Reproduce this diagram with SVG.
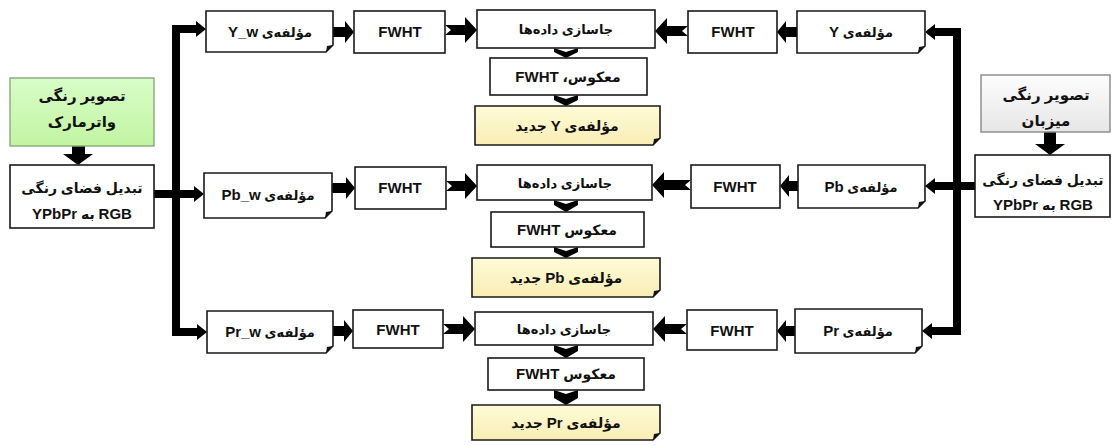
<svg xmlns="http://www.w3.org/2000/svg" width="1113" height="446" viewBox="0 0 1113 446">
<defs>
<linearGradient id="gGreen" x1="0" y1="0" x2="0" y2="1"><stop offset="0" stop-color="#d8fdc8"/><stop offset="1" stop-color="#c2f4a2"/></linearGradient>
<linearGradient id="gGray" x1="0" y1="0" x2="0" y2="1"><stop offset="0" stop-color="#fdfdfd"/><stop offset="1" stop-color="#e6e6e6"/></linearGradient>
<linearGradient id="gYel" x1="0" y1="0" x2="0" y2="1"><stop offset="0" stop-color="#fffbd8"/><stop offset="1" stop-color="#f8edb4"/></linearGradient>
<style>
.box{fill:#fff;stroke:#1a1a1a;stroke-width:1.6}
.grn{fill:url(#gGreen);stroke:#8aa878;stroke-width:1.4}
.gry{fill:url(#gGray);stroke:#888;stroke-width:1.4}
.yel{fill:url(#gYel);stroke:#1a1a1a;stroke-width:1.6}
.fold{fill:#111}
.t{font-family:"Liberation Sans","DejaVu Sans",sans-serif;font-weight:bold;font-size:13px;fill:#111;text-anchor:middle}
.tl{font-size:14px}
.tb{font-size:15px}
.L{font-size:15px}
.blk{fill:#000}
.bus{fill:none;stroke:#000;stroke-width:8;stroke-linejoin:miter}
</style>
</defs>

<g id="connectors">
<path class="bus" d="M196,29 H176 V332 H197"/>
<path class="bus" d="M154,194 H194"/>
<polygon class="blk" points="196,21 206,29 196,37"/>
<polygon class="blk" points="194,186 204,194 194,202"/>
<polygon class="blk" points="197,324 207,332 197,340"/>
<path class="bus" d="M935,32 H957 V331 H932"/>
<path class="bus" d="M975,186 H935"/>
<polygon class="blk" points="935,24 925,32 935,40"/>
<polygon class="blk" points="935,178 925,186 935,194"/>
<polygon class="blk" points="932,323 922,331 932,339"/>
<polygon class="blk" points="72,146 85,146 85,154 93,154 78,165 63,154 72,154"/>
<polygon class="blk" points="1044,132 1056,132 1056,144 1065,144 1050,155 1035,144 1044,144"/>
<polygon class="blk" points="333,27 345,27 345,21 354,32 345,43 345,37 333,37"/>
<polygon class="blk" points="332,183 346,183 346,177 355,188 346,199 346,193 332,193"/>
<polygon class="blk" points="333,326 344,326 344,320 353,331 344,342 344,336 333,336"/>
<polygon class="blk" points="445,25 465,25 465,17 477,30 465,43 465,35 445,35 451,30"/>
<polygon class="blk" points="446,181 465,181 465,173 477,186 465,199 465,191 446,191 452,186"/>
<polygon class="blk" points="443,324 463,324 463,316 475,329 463,342 463,334 443,334 449,329"/>
<polygon class="blk" points="688,26 667,26 667,18 655,31 667,44 667,36 688,36 682,31"/>
<polygon class="blk" points="691,180 664,180 664,172 652,185 664,198 664,190 691,190 685,185"/>
<polygon class="blk" points="687,324 665,324 665,316 653,329 665,342 665,334 687,334 681,329"/>
<polygon class="blk" points="797,27 786,27 786,21 777,32 786,43 786,37 797,37"/>
<polygon class="blk" points="798,181 789,181 789,175 780,186 789,197 789,191 798,191"/>
<polygon class="blk" points="795,326 786,326 786,320 777,331 786,342 786,336 795,336"/>
<polygon class="blk" points="554,48 566,52 578,48 578,52 566,58 554,52"/>
<polygon class="blk" points="554,95 566,99 578,95 578,100 566,106 554,100"/>
<polygon class="blk" points="554,200 566,204 578,200 578,205 566,212 554,205"/>
<polygon class="blk" points="554,247 566,251 578,247 578,252 566,258 554,252"/>
<polygon class="blk" points="554,345 566,349 578,345 578,351 566,358 554,351"/>
<polygon class="blk" points="554,390 566,394 578,390 578,398 566,405 554,398"/>
</g>

<g id="watermark">
<rect class="grn" x="10" y="78" width="144" height="68"/>
<text class="t tb" x="82" y="101" direction="rtl">تصویر رنگی</text>
<text class="t tb" x="82" y="127" direction="rtl">واترمارک</text>
</g>
<g id="convLeft">
<rect class="box" x="10" y="165" width="144" height="63"/>
<text class="t tl" x="82" y="193" direction="rtl">تبدیل فضای رنگی</text>
<text class="t tl" x="82" y="219" direction="rtl"><tspan class="L">RGB</tspan> به <tspan class="L">YPbPr</tspan></text>
</g>
<g id="host">
<rect class="gry" x="981" y="75" width="129" height="57"/>
<text class="t tb" x="1046" y="100" direction="rtl">تصویر رنگی</text>
<text class="t tb" x="1046" y="126" direction="rtl">میزبان</text>
</g>
<g id="convRight">
<rect class="box" x="975" y="155" width="135" height="62"/>
<text class="t tl" x="1043" y="185" direction="rtl">تبدیل فضای رنگی</text>
<text class="t tl" x="1043" y="210" direction="rtl"><tspan class="L">RGB</tspan> به <tspan class="L">YPbPr</tspan></text>
</g>

<g id="Yw">
<path class="box" d="M206,11 H333 V45 L326,52 H206 Z"/><path class="fold" d="M326,52 L327,46 L333,45 Z"/>
<text class="t" x="270" y="37" direction="rtl">مؤلفه‌ی <tspan class="L">Y_w</tspan></text>
</g>
<g id="fwhtL1"><rect class="box" x="354" y="11" width="91" height="42"/><text class="t L" x="400" y="37">FWHT</text></g>
<g id="emb1"><rect class="box" x="477" y="10" width="178" height="38"/><text class="t" x="566" y="34" direction="rtl">جاسازی داده‌ها</text></g>
<g id="fwhtR1"><rect class="box" x="688" y="11" width="89" height="42"/><text class="t L" x="733" y="37">FWHT</text></g>
<g id="Y">
<path class="box" d="M797,11 H925 V46 L918,53 H797 Z"/><path class="fold" d="M918,53 L919,47 L925,46 Z"/>
<text class="t" x="861" y="37" direction="rtl">مؤلفه‌ی <tspan class="L">Y</tspan></text>
</g>
<g id="inv1"><rect class="box" x="490" y="58" width="157" height="37"/><text class="t tl" x="568" y="82" direction="rtl">معکوس، <tspan class="L">FWHT</tspan></text></g>
<g id="newY">
<path class="yel" d="M475,106 H660 V138 L653,145 H475 Z"/><path class="fold" d="M653,145 L654,139 L660,138 Z"/>
<text class="t tl" x="567" y="131" direction="rtl">مؤلفه‌ی <tspan class="L">Y</tspan> جدید</text>
</g>

<g id="Pbw">
<path class="box" d="M204,173 H332 V211 L325,218 H204 Z"/><path class="fold" d="M325,218 L326,212 L332,211 Z"/>
<text class="t" x="268" y="200" direction="rtl">مؤلفه‌ی <tspan class="L">Pb_w</tspan></text>
</g>
<g id="fwhtL2"><rect class="box" x="355" y="167" width="91" height="42"/><text class="t L" x="400" y="193">FWHT</text></g>
<g id="emb2"><rect class="box" x="477" y="165" width="175" height="35"/><text class="t" x="565" y="188" direction="rtl">جاسازی داده‌ها</text></g>
<g id="fwhtR2"><rect class="box" x="691" y="165" width="89" height="43"/><text class="t L" x="735" y="192">FWHT</text></g>
<g id="Pb">
<path class="box" d="M798,165 H925 V201 L918,208 H798 Z"/><path class="fold" d="M918,208 L919,202 L925,201 Z"/>
<text class="t" x="861" y="192" direction="rtl">مؤلفه‌ی <tspan class="L">Pb</tspan></text>
</g>
<g id="inv2"><rect class="box" x="491" y="212" width="153" height="35"/><text class="t tl" x="567" y="235" direction="rtl">معکوس <tspan class="L">FWHT</tspan></text></g>
<g id="newPb">
<path class="yel" d="M472,258 H660 V290 L653,297 H472 Z"/><path class="fold" d="M653,297 L654,291 L660,290 Z"/>
<text class="t tl" x="566" y="283" direction="rtl">مؤلفه‌ی <tspan class="L">Pb</tspan> جدید</text>
</g>

<g id="Prw">
<path class="box" d="M207,311 H333 V346 L326,353 H207 Z"/><path class="fold" d="M326,353 L327,347 L333,346 Z"/>
<text class="t" x="270" y="337" direction="rtl">مؤلفه‌ی <tspan class="L">Pr_w</tspan></text>
</g>
<g id="fwhtL3"><rect class="box" x="353" y="310" width="90" height="38"/><text class="t L" x="398" y="335">FWHT</text></g>
<g id="emb3"><rect class="box" x="475" y="312" width="178" height="33"/><text class="t" x="564" y="334" direction="rtl">جاسازی داده‌ها</text></g>
<g id="fwhtR3"><rect class="box" x="687" y="310" width="90" height="40"/><text class="t L" x="732" y="336">FWHT</text></g>
<g id="Pr">
<path class="box" d="M795,309 H922 V346 L915,353 H795 Z"/><path class="fold" d="M915,353 L916,347 L922,346 Z"/>
<text class="t" x="858" y="336" direction="rtl">مؤلفه‌ی <tspan class="L">Pr</tspan></text>
</g>
<g id="inv3"><rect class="box" x="488" y="358" width="156" height="32"/><text class="t tl" x="566" y="379" direction="rtl">معکوس <tspan class="L">FWHT</tspan></text></g>
<g id="newPr">
<path class="yel" d="M472,405 H660 V433 L653,440 H472 Z"/><path class="fold" d="M653,440 L654,434 L660,433 Z"/>
<text class="t tl" x="566" y="428" direction="rtl">مؤلفه‌ی <tspan class="L">Pr</tspan> جدید</text>
</g>
</svg>
